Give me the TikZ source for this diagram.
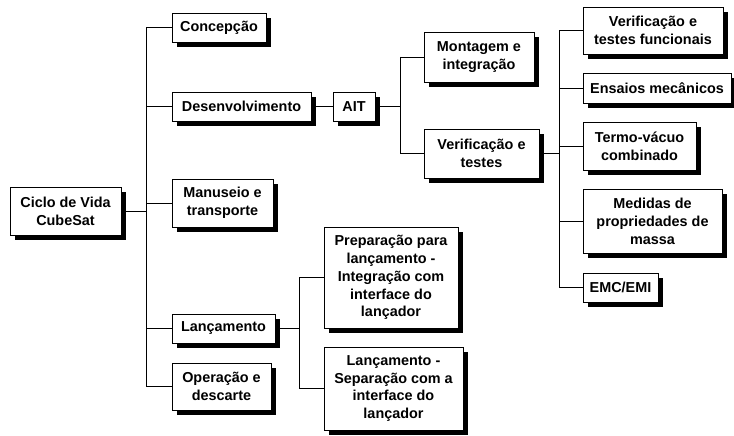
\documentclass[tikz,border=0pt]{standalone}
\usepackage{fontspec}
\setmainfont{Liberation Sans}
\usetikzlibrary{shadows}
\begin{document}
\begin{tikzpicture}[x=1pt,y=-1pt,
  bx/.style={draw=black,line width=0.9pt,fill=white,inner sep=0pt,align=center,
    font=\bfseries\fontsize{14.4}{17.9}\selectfont,
    drop shadow={shadow xshift=5pt,shadow yshift=-5pt,fill=black,opacity=1}},
  ln/.style={line width=0.9pt,draw=black}]
\useasboundingbox (0,0) rectangle (734,436);
% level 0/1
\node[bx,minimum width=111pt,minimum height=48pt] (root) at (65.5,211) {Ciclo de Vida\\CubeSat};
\node[bx,minimum width=94pt,minimum height=29pt] (concep) at (219,27.5) {Concepção};
\node[bx,minimum width=139pt,minimum height=29pt] (desenv) at (241.5,106.5) {Desenvolvimento};
\node[bx,minimum width=101pt,minimum height=48pt] (manus) at (222.5,203) {Manuseio e\\transporte};
\node[bx,minimum width=103pt,minimum height=29pt] (lanc) at (223.5,328.5) {Lançamento};
\node[bx,minimum width=99pt,minimum height=47pt] (oper) at (221.5,386.5) {Operação e\\descarte};
% AIT branch
\node[bx,minimum width=42pt,minimum height=29pt] (ait) at (354,106.5) {AIT};
\node[bx,minimum width=110pt,minimum height=50pt] (mont) at (479,57) {Montagem e\\integração};
\node[bx,minimum width=115pt,minimum height=49pt] (verif) at (481.5,153.5) {Verificação e\\testes};
\node[bx,minimum width=140pt,minimum height=47pt] (vtf) at (653,30.5) {Verificação e\\testes funcionais};
\node[bx,minimum width=148pt,minimum height=30pt] (ens) at (657,88) {Ensaios mecânicos};
\node[bx,minimum width=113pt,minimum height=48pt] (termo) at (639.5,146) {Termo-vácuo\\combinado};
\node[bx,minimum width=139pt,minimum height=64pt] (med) at (652.5,221) {Medidas de\\propriedades de\\massa};
\node[bx,minimum width=75pt,minimum height=29pt] (emc) at (620.5,287.5) {EMC/EMI};
% launch branch
\node[bx,minimum width=134pt,minimum height=101pt] (prep) at (391,277.5) {Preparação para\\lançamento -\\Integração com\\interface do\\lançador};
\node[bx,minimum width=139pt,minimum height=83pt] (sep) at (393.5,388.5) {Lançamento -\\Separação com a\\interface do\\lançador};
% trunk coordinates
\coordinate (t1) at (146,0);
\coordinate (t2) at (400,0);
\coordinate (t3) at (559,0);
\coordinate (t4) at (299,0);
% main trunk
\draw[ln] (root.east) -- (root.east -| t1);
\draw[ln] (concep.west -| t1) -- (oper.west -| t1);
\foreach \n in {concep,desenv,manus,lanc,oper} \draw[ln] (\n.west) -- (\n.west -| t1);
% desenv to AIT
\draw[ln] (desenv.east) -- (ait.west);
% AIT trunk
\draw[ln] (ait.east) -- (ait.east -| t2);
\draw[ln] (mont.west -| t2) -- (verif.west -| t2);
\foreach \n in {mont,verif} \draw[ln] (\n.west) -- (\n.west -| t2);
% verification trunk
\draw[ln] (verif.east) -- (verif.east -| t3);
\draw[ln] (vtf.west -| t3) -- (emc.west -| t3);
\foreach \n in {vtf,ens,termo,med,emc} \draw[ln] (\n.west) -- (\n.west -| t3);
% launch trunk
\draw[ln] (lanc.east) -- (lanc.east -| t4);
\draw[ln] (prep.west -| t4) -- (sep.west -| t4);
\foreach \n in {prep,sep} \draw[ln] (\n.west) -- (\n.west -| t4);
\end{tikzpicture}
\end{document}
